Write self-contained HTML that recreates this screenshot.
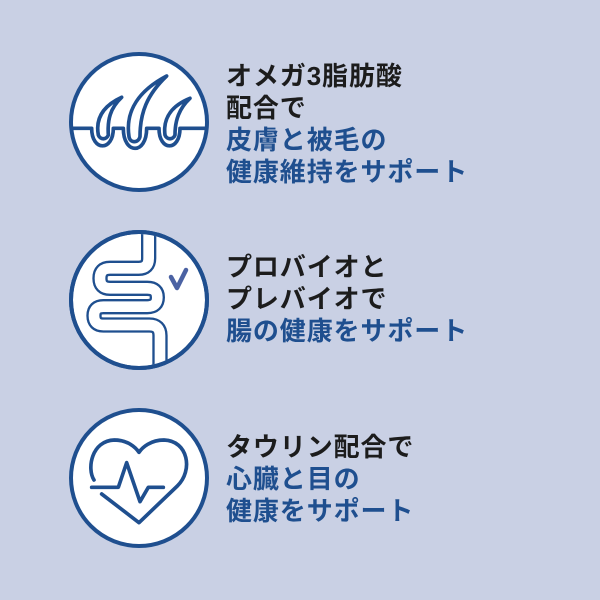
<!DOCTYPE html>
<html><head><meta charset="utf-8"><style>
html,body{margin:0;padding:0}
body{width:600px;height:600px;background:#c9d0e4;position:relative;overflow:hidden;font-family:"Liberation Sans","Noto Sans CJK JP",sans-serif;font-weight:bold}
.t{position:absolute;left:226px;font-size:26px;line-height:32px;white-space:nowrap;letter-spacing:0.9px}
.k{color:#1c1c1c}.b{color:#1f4f8f}
svg{position:absolute;left:0;top:0}
</style></head><body>
<svg width="600" height="600" viewBox="0 0 600 600">
<defs>
<clipPath id="c2"><circle cx="139" cy="300" r="66"/></clipPath>
</defs>
<g fill="#fff" stroke="#1f4f8f" stroke-width="4">
<circle cx="139" cy="122" r="68"/>
<circle cx="139" cy="300" r="68"/>
<circle cx="139" cy="478" r="68"/>
</g>
<g transform="translate(60,40) scale(0.3333)" fill="none" stroke="#1f4f8f" stroke-width="11" stroke-linejoin="round">
<path d="M32,265 H95 C95,335 160,335 160,265 H190 C190,345 260,345 260,265 H297 C297,335 360,335 360,265 H445"/>
<path d="M115,285 C105,230 135,195 185,172 C150,205 142,240 145,285 C140,300 120,300 115,285 Z"/>
<path d="M207,290 C195,210 240,150 320,108 C260,165 240,220 240,290 C235,310 210,310 207,290 Z"/>
<path d="M315,285 C308,230 340,195 390,175 C358,205 345,240 345,285 C340,300 320,300 315,285 Z"/>
</g>
<g clip-path="url(#c2)">
<g transform="translate(60,220) scale(0.3333)" fill="none" stroke-linejoin="round" stroke-linecap="butt">
<path d="M266,20 V115 Q266,145 236,145 H150 Q120,145 120,175 Q120,205 150,205 H262 Q292,205 292,232 Q292,260 262,260 H130 Q102,260 102,287 Q102,315 130,315 H268 Q300,315 300,347 V460" stroke="#1f4f8f" stroke-width="46"/>
<path d="M266,20 V115 Q266,145 236,145 H150 Q120,145 120,175 Q120,205 150,205 H262 Q292,205 292,232 Q292,260 262,260 H130 Q102,260 102,287 Q102,315 130,315 H268 Q300,315 300,347 V460" stroke="#fff" stroke-width="32"/>
</g>
</g>
<circle cx="139" cy="300" r="68" fill="none" stroke="#1f4f8f" stroke-width="4"/>
<path d="M171,277 L177,288 L186,270" fill="none" stroke="#4b62a3" stroke-width="4.5" stroke-linecap="round" stroke-linejoin="round"/>
<g transform="translate(60,400) scale(0.3333)" fill="none" stroke="#1f4f8f" stroke-width="11" stroke-linecap="round" stroke-linejoin="round">
<path d="M125,282 L237,368 L352,258 C400,212 385,122 312,120 C272,120 247,142 237,157 C227,142 203,120 163,120 C95,122 80,205 102,240"/>
<path d="M95,262 H175 L200,188 L240,305 L265,262 H310"/>
</g>
</svg>
<div class="t" style="top:60px"><span class="k">オメガ3脂肪酸</span><br><span class="k">配合で</span><br><span class="b">皮膚と被毛の</span><br><span class="b">健康維持をサポート</span></div>
<div class="t" style="top:251px"><span class="k">プロバイオと</span><br><span class="k">プレバイオで</span><br><span class="b">腸の健康をサポート</span></div>
<div class="t" style="top:431px"><span class="k">タウリン配合で</span><br><span class="b">心臓と目の</span><br><span class="b">健康をサポート</span></div>
</body></html>
